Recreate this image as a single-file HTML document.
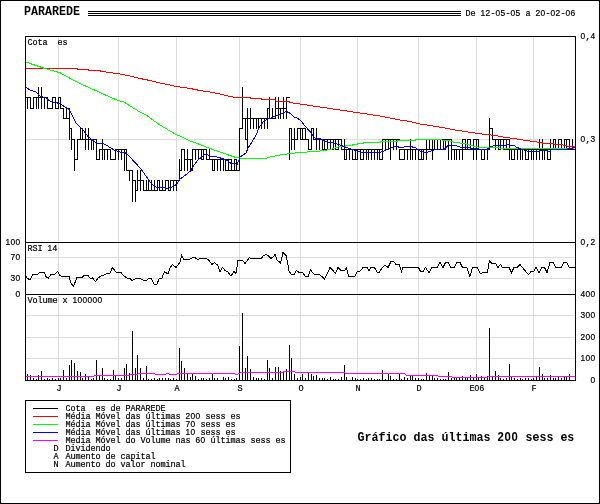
<!DOCTYPE html>
<html lang="pt"><head><meta charset="utf-8"><title>PARAREDE</title>
<style>
html,body{margin:0;padding:0;background:#fff}
#tx{position:absolute;left:0;top:0;width:600px;height:504px;will-change:transform}
#c{position:relative;width:600px;height:504px;overflow:hidden;background:#fff}
.t,.b{position:absolute;white-space:pre;color:#000;font-family:"Liberation Mono",monospace}
.t{font-size:8.5px;line-height:10px;height:10px;letter-spacing:-0.1px;font-weight:normal;-webkit-text-stroke:0.2px #000}
.b{font-size:11.667px;line-height:14px;height:14px;font-weight:bold;transform:scaleY(1.11);transform-origin:0 0}
.r{text-align:right}
.t .d{line-height:0;font-family:"Liberation Sans",sans-serif;font-size:8.4px;letter-spacing:0.33px}
.b .d{line-height:0;font-family:"Liberation Sans",sans-serif;font-size:11.35px;letter-spacing:0.69px}
.t span,.b span{display:inline-block}
</style></head><body><div id="c">
<svg width="600" height="504" viewBox="0 0 600 504" shape-rendering="crispEdges" style="position:absolute;left:0;top:0">
<rect x="0" y="0" width="600" height="504" fill="#fff"/>
<path d="M58.5 37V380 M118.5 37V380 M176.5 37V380 M239.5 37V380 M300.5 37V380 M357.5 37V380 M418.5 37V380 M476.5 37V380 M533.5 37V380 M26 139.5H575 M26 257.5H575 M26 278.5H575 M26 315.5H575 M26 337.5H575 M26 358.5H575" stroke="#dcdcdc" stroke-width="1" fill="none"/>
<path d="M27.5 97V109 M30.5 97V109 M33.5 97V109 M36.5 97V109 M38.5 87V109 M41.5 87V109 M44.5 97V109 M47.5 97V109 M52.5 97V109 M55.5 97V109 M58.5 97V109 M60.5 97V109 M63.5 108V119 M66.5 108V119 M69.5 108V140 M71.5 128V150 M74.5 139V171 M77.5 139V160 M80.5 128V140 M82.5 128V140 M85.5 128V150 M88.5 128V150 M91.5 139V150 M93.5 139V150 M96.5 139V160 M99.5 149V160 M102.5 139V160 M104.5 149V160 M107.5 149V160 M110.5 149V160 M115.5 149V160 M118.5 149V160 M121.5 149V160 M124.5 149V171 M126.5 149V171 M129.5 170V181 M132.5 170V202 M135.5 180V202 M137.5 170V191 M140.5 170V191 M143.5 180V191 M146.5 180V191 M148.5 180V191 M151.5 180V191 M154.5 180V191 M157.5 180V191 M159.5 180V191 M162.5 180V191 M165.5 180V191 M168.5 180V191 M170.5 180V191 M173.5 180V191 M176.5 180V191 M179.5 159V181 M181.5 149V171 M184.5 149V171 M187.5 149V171 M190.5 159V171 M192.5 149V171 M195.5 149V160 M198.5 149V160 M201.5 149V160 M203.5 149V160 M206.5 149V160 M209.5 149V160 M212.5 159V171 M214.5 159V171 M217.5 159V171 M220.5 159V171 M223.5 159V171 M225.5 159V171 M228.5 159V171 M231.5 159V171 M234.5 159V171 M236.5 159V171 M239.5 128V171 M242.5 87V129 M245.5 118V140 M247.5 108V150 M250.5 108V129 M253.5 118V129 M256.5 118V129 M258.5 118V129 M261.5 118V129 M264.5 118V129 M267.5 108V129 M269.5 97V119 M272.5 108V119 M275.5 97V119 M278.5 97V119 M280.5 108V119 M283.5 97V119 M286.5 97V119 M289.5 128V160 M291.5 128V150 M294.5 128V150 M297.5 128V140 M300.5 128V140 M302.5 128V140 M305.5 128V140 M308.5 139V150 M311.5 128V150 M313.5 128V140 M316.5 128V150 M319.5 139V150 M322.5 139V150 M324.5 139V150 M327.5 139V150 M330.5 139V150 M333.5 139V150 M335.5 139V150 M338.5 139V150 M341.5 139V150 M344.5 139V160 M346.5 149V160 M349.5 149V160 M352.5 149V160 M355.5 149V160 M357.5 149V160 M360.5 149V160 M363.5 149V160 M366.5 149V160 M368.5 149V160 M371.5 149V160 M374.5 149V160 M377.5 149V160 M379.5 149V160 M382.5 139V160 M385.5 139V150 M388.5 139V150 M390.5 139V160 M393.5 139V150 M396.5 139V150 M399.5 149V160 M404.5 149V160 M407.5 149V160 M410.5 139V160 M412.5 149V160 M415.5 149V160 M418.5 149V160 M421.5 149V160 M423.5 149V160 M426.5 139V160 M429.5 139V150 M432.5 139V160 M434.5 139V150 M437.5 139V150 M440.5 139V150 M443.5 139V150 M445.5 139V150 M448.5 139V160 M451.5 139V160 M454.5 149V160 M456.5 149V160 M459.5 149V160 M462.5 139V160 M465.5 139V150 M467.5 139V150 M470.5 139V150 M473.5 139V160 M476.5 139V160 M478.5 139V150 M481.5 149V160 M484.5 149V160 M487.5 149V160 M489.5 118V150 M492.5 128V140 M495.5 139V150 M498.5 139V150 M500.5 139V150 M503.5 139V150 M506.5 139V150 M509.5 139V160 M511.5 149V160 M514.5 149V160 M517.5 149V160 M520.5 149V160 M522.5 149V160 M525.5 149V160 M528.5 149V160 M531.5 149V160 M533.5 149V160 M536.5 149V160 M539.5 139V160 M542.5 139V160 M544.5 149V160 M547.5 149V160 M550.5 139V160 M553.5 139V150 M555.5 139V150 M558.5 139V150 M561.5 139V150 M564.5 139V150 M566.5 139V150 M569.5 139V150 M572.5 139V150 M25 97.5H28 M27 97.5H31 M30 108.5H34 M33 97.5H37 M36 97.5H39 M38 97.5H42 M41 97.5H45 M44 97.5H48 M47 108.5H50 M49 108.5H53 M52 97.5H56 M55 108.5H59 M58 97.5H61 M60 108.5H64 M63 118.5H67 M66 118.5H70 M69 128.5H72 M71 139.5H75 M74 159.5H78 M77 139.5H81 M80 139.5H83 M82 139.5H86 M85 139.5H89 M88 139.5H92 M91 139.5H94 M93 139.5H97 M96 159.5H100 M99 149.5H103 M102 149.5H105 M104 149.5H108 M107 149.5H111 M110 159.5H114 M113 159.5H116 M115 149.5H119 M118 149.5H122 M121 149.5H125 M124 149.5H127 M126 170.5H130 M129 170.5H133 M132 180.5H136 M135 190.5H138 M137 180.5H141 M140 180.5H144 M143 190.5H147 M146 190.5H149 M148 190.5H152 M151 190.5H155 M154 190.5H158 M157 180.5H160 M159 190.5H163 M162 190.5H166 M165 180.5H169 M168 190.5H171 M170 180.5H174 M173 180.5H177 M176 180.5H180 M179 170.5H182 M181 149.5H185 M184 159.5H188 M187 159.5H191 M190 159.5H193 M192 149.5H196 M195 149.5H199 M198 149.5H202 M201 159.5H204 M201 149.5H204 M203 149.5H207 M206 159.5H210 M209 159.5H213 M212 159.5H215 M212 170.5H215 M214 159.5H218 M217 159.5H221 M220 159.5H224 M223 159.5H226 M225 159.5H229 M225 170.5H229 M228 159.5H232 M228 170.5H232 M231 170.5H235 M234 170.5H237 M234 159.5H237 M236 170.5H240 M239 128.5H243 M242 118.5H246 M245 118.5H248 M245 139.5H248 M247 118.5H251 M250 118.5H254 M253 118.5H257 M256 118.5H259 M258 118.5H262 M261 118.5H265 M264 118.5H268 M267 108.5H270 M269 118.5H273 M272 118.5H276 M275 108.5H279 M278 108.5H281 M280 108.5H284 M283 108.5H287 M286 97.5H290 M289 128.5H292 M291 139.5H295 M294 139.5H298 M297 128.5H301 M300 128.5H303 M300 139.5H303 M302 128.5H306 M302 139.5H306 M305 139.5H309 M308 149.5H312 M311 128.5H314 M313 139.5H317 M316 139.5H320 M319 139.5H323 M322 139.5H325 M322 149.5H325 M324 139.5H328 M324 149.5H328 M327 139.5H331 M330 139.5H334 M330 149.5H334 M333 139.5H336 M335 139.5H339 M335 149.5H339 M338 139.5H342 M341 149.5H345 M344 149.5H347 M344 159.5H347 M346 149.5H350 M349 149.5H353 M352 149.5H356 M352 159.5H356 M355 149.5H358 M355 159.5H358 M357 149.5H361 M360 149.5H364 M360 159.5H364 M363 149.5H367 M366 149.5H369 M368 149.5H372 M371 149.5H375 M374 149.5H378 M377 149.5H380 M379 149.5H383 M379 159.5H383 M382 139.5H386 M385 139.5H389 M388 139.5H391 M390 139.5H394 M393 139.5H397 M396 139.5H400 M399 149.5H402 M399 159.5H402 M401 149.5H405 M401 159.5H405 M404 149.5H408 M407 149.5H411 M410 149.5H413 M412 149.5H416 M415 149.5H419 M418 149.5H422 M418 159.5H422 M421 149.5H424 M421 159.5H424 M423 149.5H427 M426 149.5H430 M426 139.5H430 M429 149.5H433 M429 139.5H433 M432 149.5H435 M432 139.5H435 M434 149.5H438 M434 139.5H438 M437 149.5H441 M437 139.5H441 M440 139.5H444 M440 149.5H444 M443 139.5H446 M443 149.5H446 M445 139.5H449 M448 139.5H452 M451 149.5H455 M454 149.5H457 M456 149.5H460 M459 149.5H463 M462 149.5H466 M462 139.5H466 M465 149.5H468 M467 149.5H471 M467 139.5H471 M470 149.5H474 M473 149.5H477 M473 139.5H477 M476 149.5H479 M476 139.5H479 M478 149.5H482 M481 149.5H485 M481 159.5H485 M484 149.5H488 M487 149.5H490 M489 128.5H493 M492 139.5H496 M495 139.5H499 M498 139.5H501 M498 149.5H501 M500 139.5H504 M503 139.5H507 M503 149.5H507 M506 139.5H510 M506 149.5H510 M509 149.5H512 M511 149.5H515 M511 159.5H515 M514 149.5H518 M517 149.5H521 M520 149.5H523 M522 149.5H526 M525 149.5H529 M525 159.5H529 M528 149.5H532 M531 149.5H534 M533 149.5H537 M536 149.5H540 M539 149.5H543 M542 149.5H545 M544 149.5H548 M547 149.5H551 M547 159.5H551 M550 149.5H554 M553 149.5H556 M553 139.5H556 M555 149.5H559 M558 149.5H562 M558 139.5H562 M561 149.5H565 M564 149.5H567 M564 139.5H567 M566 149.5H570 M566 139.5H570 M569 149.5H573 M572 149.5H576" stroke="#000" stroke-width="1" fill="none"/>
<polyline points="25,68.5 77,68.5 78,69.5 88,69.5 89,70.5 100,70.5 101,71.5 110,72.5 120,74 130,76 140,78.5 150,80.5 160,83 170,85 176.5,86.5 190,88.5 200,90.5 210,92 220,94 230,96.5 236,97.5 250,97.5 251,98.5 261,98.5 262,99.8 275,99.8 276,101.2 289,101.2 290,102.5 300,104 310,105.5 320,107 330,108.5 340,110 350,111.5 360,113 370,114.5 380,116 390,118 400,120 410,121.5 420,124 430,125.5 436,126.5 445,128 455,130 465,131.5 475,133 485,134.5 496,135.5 500,136.5 510,138 520,139.5 530,141 540,142.5 545,143.5 553,143.5 555,144.5 562,144.5 564,145.5 570,146.5 575,147" stroke="#ff0000" stroke-width="1" fill="none"/>
<polyline points="25,61.5 30,63.5 45,68.5 60,72.7 78,82.7 90,88 100,92.5 110,97 118,100.5 124,102 130,106 140,112 146,115 150,118 160,125 170,131 176,134.5 180,136 190,141 200,144.5 210,148.5 220,152 230,155.5 236,157.5 240,158 250,158.5 265,158.5 270,157 280,155 290,153.5 300,152.5 310,151.8 320,151 330,149.5 335,148 340,146.5 345,146.5 346,145.5 352,145.5 353,144.5 357,144.5 358,143.5 363,143.5 364,142.5 380,142.5 381,141.5 397,141.5 398,140.5 415,140.5 416,139.5 436,139.5 448,140.5 455,142.5 465,143.5 470,145.5 478,147 485,147.5 500,148 505,148.5 550,148.5 575,148" stroke="#00ff00" stroke-width="1" fill="none"/>
<polyline points="25,86.3 30,90 36,92 40,96 45,97.5 50,101 55,102.5 60,103.5 65,107 68.5,109 72,115 76,122.7 80,127 83,130 88,136.5 94,141 97,144 102,143 107,145.5 114,150 120,152 125,152.5 130,157 135,162.5 141,169 147,177.5 150,182 153,185 157,187.5 163,187.5 168,188.5 172,187 174,186 177,184 180,179 183,177 187,174 191,170.5 194,165 198,160 202,157 204.5,154.5 207,154.5 210,156 217,157 224,159 228,161 231,163.5 236,164 237,165 240,157 246,153 248,148 252,142 256,135 259,128 260,126 264,121 268,119 272,117.5 276,116 280,114.5 284,112.5 286,111.5 289,112.5 291,114 294,117 298,118.5 301,121 305,126 310,131.5 313,136 315,138 320,138.5 324,141 328,142 335,143.5 340,145 345,147 350,148.5 357,151 362,152.5 380,152.5 385,150.5 390,148.5 395,146.5 398,146.5 399,147.5 403,147.5 405,146.5 410,146.5 415,147.5 420,151 424,152.5 428,152 432,150.5 436,149.5 444,149.5 448,145.5 456,145.5 460,147 465,147.5 470,148 476,148.5 480,149.5 487,149.5 490,147 493,146 496,145.5 505,145.5 508,144.5 510,145.5 514,145.5 517,147.5 520,148.5 524,150 527,151 540,151 545,150.5 550,151.5 551,150 565,149.5 570,148.5 575,147.5" stroke="#0000ff" stroke-width="1" fill="none"/>
<polyline points="25.5,275 27,278 29,279.5 30.5,279 33,274.5 38,274 40.5,272 44,272 46.5,277.5 48.5,278 51,274.5 55,274 57.5,271.5 60,275.5 62,276.5 69,276.5 71,283 73.5,286.5 76,280 77,277.5 82,277.5 84,275.5 88,275.5 90.5,278.5 92.5,278 95.5,281.5 98,278 101.5,275.5 104,275 107,273.5 110,273 112.5,267.5 116,272 121,272.5 124,276 127,278 130,278.5 132,280.5 135,279 137,278.5 140,278.5 142.5,280 146,280.5 149,278.5 151.5,278.5 154,284 157,284 159,279 162,278 164.5,271.5 166,272.5 168,274 170,268 172.5,264.5 174,266 176,267.5 178.5,264.5 180,262 181.5,255.5 183.5,259 190,259 193,257.5 195,257.5 197.5,259.5 200,258.5 203,259 206,258 209,260.5 212,264.5 214.5,262.5 217.5,265 220,271.5 222.5,267.5 225,270.5 228,272 231,276 234,271.5 236,273.5 238,260.5 242.5,260.5 245,263.5 247.5,260 249.5,257.5 251,258.5 261.5,258.5 263,256 266,254.5 268,255.5 271,258.5 273,257 275,254.5 277,260 280.5,263 283,252.5 286,255.5 287.5,262 289,271 291,274 294,274.5 296.5,270.5 299,272.5 303,273 305,276 308.5,276 310.5,269.5 313.5,274 319,274.5 322,276.5 324.5,279 327.5,273 330,267.5 333,270.5 335.5,273.5 338,267.5 340.5,270 345,270 346.5,268 348.5,276 355,276 357.5,271.5 360.5,271 363,267.5 367,267.5 369,271 371,267.5 374.5,267.5 377,272 379.5,272 382,268 385,265 388,267.5 391,261.5 393.5,261.5 396,264.5 399.5,265 401.5,271.5 403,267.5 418.5,267.5 420.5,271.5 423,271.5 425.5,267.5 429,272.5 432,267.5 437,267.5 440,262.5 443,267.5 445.5,262.5 448,262.5 451,267.5 454,267.5 457,262.5 460,262.5 462.5,267.5 467,268 470,276.5 472.5,267.5 477,267.5 480.5,273.5 483,272.5 487.5,272.5 489.5,260.5 491.5,263 495.5,263 498,267.5 500.5,264.5 502.5,267.5 509,267.5 511.5,272.5 514,267.5 517,267.5 520,264.5 524,269.5 528.5,274.5 531,271.5 533.5,271.5 536,267.5 539,272.5 542,267.5 544.5,267.5 547,272.5 550,262.5 553,262.5 556,267.5 561,267.5 564,262.5 566.5,262.5 569.5,267.5 575,267.5" stroke="#000" stroke-width="1" fill="none"/>
<path d="M27.5 374V380 M30.5 375V380 M33.5 378V380 M36.5 379V380 M38.5 375V380 M41.5 371V380 M44.5 379V380 M47.5 378V380 M49.5 379V380 M52.5 378V380 M55.5 379V380 M58.5 378V380 M60.5 378V380 M63.5 370V380 M66.5 378V380 M69.5 365V380 M71.5 360V380 M74.5 363V380 M77.5 371V380 M80.5 372V380 M82.5 378V380 M85.5 374V380 M88.5 377V380 M91.5 379V380 M93.5 378V380 M96.5 360V380 M99.5 376V380 M102.5 368V380 M104.5 378V380 M107.5 379V380 M110.5 379V380 M113.5 370V380 M115.5 376V380 M118.5 378V380 M121.5 378V380 M124.5 368V380 M126.5 364V380 M129.5 373V380 M132.5 331V380 M135.5 368V380 M137.5 355V380 M140.5 368V380 M143.5 378V380 M146.5 366V380 M148.5 379V380 M151.5 379V380 M154.5 378V380 M157.5 379V380 M159.5 378V380 M162.5 378V380 M165.5 378V380 M168.5 378V380 M170.5 379V380 M173.5 378V380 M176.5 379V380 M179.5 348V380 M181.5 361V380 M184.5 368V380 M187.5 374V380 M190.5 377V380 M192.5 374V380 M195.5 376V380 M198.5 379V380 M201.5 378V380 M203.5 378V380 M206.5 379V380 M209.5 378V380 M212.5 374V380 M214.5 378V380 M217.5 378V380 M223.5 377V380 M225.5 378V380 M228.5 377V380 M231.5 379V380 M234.5 379V380 M236.5 378V380 M239.5 346V380 M242.5 313V380 M245.5 368V380 M247.5 356V380 M250.5 369V380 M253.5 377V380 M256.5 378V380 M258.5 378V380 M261.5 378V380 M264.5 379V380 M267.5 360V380 M269.5 368V380 M272.5 378V380 M275.5 367V380 M278.5 367V380 M280.5 371V380 M283.5 371V380 M286.5 369V380 M289.5 345V380 M291.5 358V380 M294.5 374V380 M297.5 378V380 M300.5 377V380 M302.5 374V380 M305.5 378V380 M308.5 373V380 M311.5 374V380 M313.5 376V380 M316.5 375V380 M319.5 378V380 M322.5 378V380 M324.5 378V380 M327.5 379V380 M330.5 377V380 M333.5 379V380 M335.5 379V380 M338.5 379V380 M341.5 377V380 M344.5 365V380 M346.5 377V380 M352.5 377V380 M355.5 378V380 M357.5 379V380 M360.5 379V380 M363.5 378V380 M366.5 379V380 M368.5 378V380 M371.5 378V380 M374.5 379V380 M377.5 379V380 M379.5 379V380 M382.5 370V380 M385.5 379V380 M388.5 374V380 M390.5 376V380 M393.5 379V380 M396.5 379V380 M399.5 374V380 M401.5 379V380 M404.5 377V380 M407.5 378V380 M410.5 376V380 M412.5 376V380 M415.5 378V380 M418.5 378V380 M421.5 379V380 M423.5 379V380 M426.5 373V380 M429.5 376V380 M432.5 376V380 M434.5 378V380 M437.5 378V380 M440.5 379V380 M443.5 379V380 M445.5 379V380 M448.5 372V380 M451.5 378V380 M454.5 378V380 M456.5 378V380 M459.5 378V380 M462.5 376V380 M465.5 378V380 M467.5 378V380 M470.5 375V380 M473.5 378V380 M476.5 374V380 M478.5 378V380 M481.5 376V380 M484.5 378V380 M487.5 376V380 M489.5 328V380 M492.5 377V380 M495.5 371V380 M498.5 375V380 M500.5 378V380 M503.5 379V380 M506.5 378V380 M509.5 364V380 M511.5 377V380 M514.5 378V380 M517.5 379V380 M520.5 378V380 M522.5 379V380 M525.5 378V380 M528.5 378V380 M531.5 379V380 M533.5 378V380 M536.5 377V380 M539.5 367V380 M542.5 374V380 M544.5 378V380 M547.5 378V380 M550.5 375V380 M553.5 378V380 M555.5 378V380 M558.5 377V380 M561.5 378V380 M564.5 377V380 M566.5 377V380 M569.5 374V380" stroke="#000" stroke-width="1" fill="none"/>
<path d="M25 376.5H94 M94 375.5H130 M130 374.5H138 M138 373.5H155 M155 374.5H166 M166 373.5H169 M169 374.5H177 M177 373.5H235 M235 374.5H238 M238 373.5H240 M240 372.5H283 M283 371.5H295 M295 372.5H345 M345 373.5H405 M405 374.5H406 M406 375.5H438 M438 376.5H452 M452 377.5H488 M488 376.5H576" stroke="#ff00ff" stroke-width="1" fill="none"/>
<path d="M25.5 36V381 M575.5 36V381 M25 36.5H576 M25 242.5H576 M25 294.5H576 M25 380.5H576" stroke="#000" stroke-width="1" fill="none"/>
<rect x="25.5" y="400.5" width="265" height="72" fill="none" stroke="#000"/>
<path d="M33 408.5H58" stroke="#000"/><path d="M33 416.5H58" stroke="#f00"/><path d="M33 424.5H58" stroke="#0f0"/><path d="M33 432.5H58" stroke="#00f"/><path d="M33 440.5H58" stroke="#f0f"/>
<path d="M88 11.5H461 M88 13.5H461 M88 15.5H461" stroke="#000"/>
<rect x="0.5" y="0.5" width="599" height="503" fill="none" stroke="#000"/>
</svg>
<div id="tx">
<div class="b" style="left:24px;top:3.8px">PARAREDE</div>
<div class="b" style="left:357.5px;top:429.8px">Gráfico das últimas <span class="d">200</span> sess&nbsp;es</div>
<div class="t" style="left:465.5px;top:8.74px">De <span class="d">12</span>-<span class="d">05</span>-<span class="d">05</span> a <span class="d">20</span>-<span class="d">02</span>-<span class="d">06</span></div>
<div class="t" style="left:27.5px;top:37.74px">Cota&nbsp;&nbsp;es</div>
<div class="t" style="left:27.5px;top:243.74px">RSI <span class="d">14</span></div>
<div class="t" style="left:27.5px;top:295.74px">Volume x <span class="d">100000</span></div>
<div class="t r" style="right:4.5px;top:31.74px"><span class="d">0</span>,<span class="d">4</span></div>
<div class="t r" style="right:4.5px;top:134.74px"><span class="d">0</span>,<span class="d">3</span></div>
<div class="t r" style="right:4.5px;top:237.74px"><span class="d">0</span>,<span class="d">2</span></div>
<div class="t r" style="right:4.5px;top:289.74px"><span class="d">400</span></div>
<div class="t r" style="right:4.5px;top:310.74px"><span class="d">300</span></div>
<div class="t r" style="right:4.5px;top:332.74px"><span class="d">200</span></div>
<div class="t r" style="right:4.5px;top:353.74px"><span class="d">100</span></div>
<div class="t r" style="right:4.5px;top:375.74px"><span class="d">0</span></div>
<div class="t r" style="right:579.5px;top:237.74px"><span class="d">100</span></div>
<div class="t r" style="right:579.5px;top:252.74px"><span class="d">70</span></div>
<div class="t r" style="right:579.5px;top:273.74px"><span class="d">30</span></div>
<div class="t r" style="right:579.5px;top:289.74px"><span class="d">0</span></div>
<div class="t" style="left:56.5px;top:383.74px">J</div>
<div class="t" style="left:116.5px;top:383.74px">J</div>
<div class="t" style="left:174.5px;top:383.74px">A</div>
<div class="t" style="left:237.5px;top:383.74px">S</div>
<div class="t" style="left:298.5px;top:383.74px">O</div>
<div class="t" style="left:355.5px;top:383.74px">N</div>
<div class="t" style="left:416.5px;top:383.74px">D</div>
<div class="t" style="left:469.5px;top:383.74px">E<span class="d">06</span></div>
<div class="t" style="left:531.5px;top:383.74px">F</div>
<div class="t" style="left:65.5px;top:403.74px">Cota&nbsp;&nbsp;es de PARAREDE</div>
<div class="t" style="left:65.5px;top:411.74px">Média Móvel das últimas <span class="d">200</span> sess&nbsp;es</div>
<div class="t" style="left:65.5px;top:419.74px">Média Móvel das últimas <span class="d">70</span> sess&nbsp;es</div>
<div class="t" style="left:65.5px;top:427.74px">Média Móvel das últimas <span class="d">10</span> sess&nbsp;es</div>
<div class="t" style="left:65.5px;top:435.74px">Media Móvel do Volume nas <span class="d">60</span> últimas sess&nbsp;es</div>
<div class="t" style="left:53.5px;top:443.74px">D</div>
<div class="t" style="left:65.5px;top:443.74px">Dividendo</div>
<div class="t" style="left:53.5px;top:451.74px">A</div>
<div class="t" style="left:65.5px;top:451.74px">Aumento de capital</div>
<div class="t" style="left:53.5px;top:459.74px">N</div>
<div class="t" style="left:65.5px;top:459.74px">Aumento do valor nominal</div>
</div>
</div></body></html>
